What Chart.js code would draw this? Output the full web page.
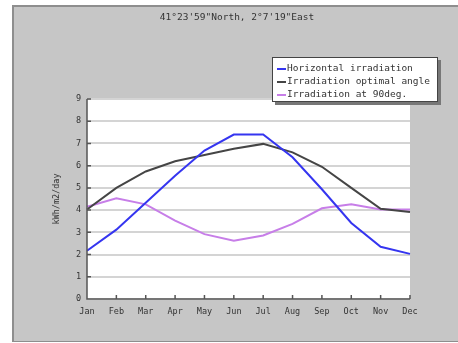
<!DOCTYPE html>
<html>
<head>
<meta charset="utf-8">
<script src="https://cdn.jsdelivr.net/npm/chart.js@4/dist/chart.umd.min.js"></script>
<style>
  body { margin: 0; background: #fff; width: 458px; height: 343px; overflow: hidden; }
  #frame {
    position: absolute; left: 12px; top: 5px; width: 446px; height: 337px;
    background: #c6c6c6; border-top: 2px solid #8e8e8e; border-left: 2px solid #8e8e8e;
    border-bottom: 1px solid #8e8e8e; box-sizing: border-box;
  }
  #title {
    position: absolute; left: 0; top: 4px; width: 446px; text-align: center;
    font: 9.5px "DejaVu Sans Mono", monospace; color: #333;
  }
  #legend {
    position: absolute; left: 258px; top: 50px; width: 166px; height: 45px;
    background: #fff; border: 1px solid #444; box-shadow: 3px 3px 0 #777;
    font: 9.5px "DejaVu Sans Mono", monospace; color: #333; padding-top: 3px; box-sizing: border-box;
  }
  .item { height: 13px; line-height: 13px; padding-left: 4px; white-space: nowrap; }
  .swatch { display: inline-block; width: 9px; height: 2px; vertical-align: middle; margin-right: 1px; }
  #wrap { position: absolute; left: 0; top: 0; width: 444px; height: 334px; }
</style>
</head>
<body>
<div id="frame">
  <div id="wrap"><canvas id="chart"></canvas></div>
  <div id="title">41°23'59"North, 2°7'19"East</div>
  <div id="legend"></div>
</div>
<script>
const months = ["Jan", "Feb", "Mar", "Apr", "May", "Jun", "Jul", "Aug", "Sep", "Oct", "Nov", "Dec"];
const horizontal = [2.17, 3.12, 4.33, 5.55, 6.68, 7.4, 7.4, 6.38, 4.94, 3.42, 2.35, 2.03];
const optimal = [4.03, 5.0, 5.74, 6.2, 6.48, 6.76, 6.98, 6.6, 5.95, 5.0, 4.06, 3.92];
const vertical90 = [4.15, 4.53, 4.26, 3.53, 2.92, 2.62, 2.86, 3.38, 4.08, 4.26, 4.03, 4.03];
const seriesNames = ["Horizontal irradiation", "Irradiation optimal angle", "Irradiation at 90deg."];
const seriesColors = ["#3535f0", "#454545", "#c77ee8"];

// Legend
document.getElementById("legend").innerHTML = seriesNames
  .map((name, i) => `<div class="item"><span class="swatch" style="background:${seriesColors[i]}"></span>${name}</div>`)
  .join("");

const font = { family: "'DejaVu Sans Mono', monospace", size: 8.5 };

// White plot area + inward tick marks
const plotArea = {
  id: "plotArea",
  beforeDraw(chart) {
    const { ctx, chartArea: a } = chart;
    ctx.save();
    ctx.fillStyle = "#fff";
    ctx.fillRect(a.left, a.top, a.right - a.left, a.bottom - a.top);
    ctx.restore();
  },
  afterDatasetsDraw(chart) {
    const { ctx, chartArea: a, scales } = chart;
    ctx.save();
    ctx.strokeStyle = "#555";
    ctx.lineWidth = 1.5;
    ctx.beginPath();
    scales.x.ticks.forEach((t, i) => {
      const x = scales.x.getPixelForTick(i);
      ctx.moveTo(x, a.bottom);
      ctx.lineTo(x, a.bottom - 4);
    });
    scales.y.ticks.forEach((t, i) => {
      const y = scales.y.getPixelForTick(i);
      ctx.moveTo(a.left, y);
      ctx.lineTo(a.left + 4, y);
    });
    ctx.moveTo(a.left, a.top);
    ctx.lineTo(a.left, a.bottom);
    ctx.lineTo(a.right, a.bottom);
    ctx.stroke();
    ctx.restore();
  },
};

new Chart(document.getElementById("chart"), {
  type: "line",
  data: {
    labels: months,
    datasets: [horizontal, optimal, vertical90].map((d, i) => ({
      label: seriesNames[i],
      data: d,
      borderColor: seriesColors[i],
      borderWidth: 2,
      pointRadius: 0,
      tension: 0,
    })),
  },
  options: {
    responsive: true,
    maintainAspectRatio: false,
    animation: false,
    layout: { padding: { left: 38, top: 92, right: 48, bottom: 0 } },
    plugins: { legend: { display: false }, tooltip: { enabled: false } },
    scales: {
      x: {
        offset: false,
        grid: { display: false, drawTicks: false },
        border: { display: false },
        ticks: { font, color: "#333", padding: 8, maxRotation: 0, autoSkip: false },
        afterFit: (s) => { s.height = 42; },
      },
      y: {
        min: 0,
        max: 9,
        grid: { color: "#d4d4d4", lineWidth: 2, drawTicks: false },
        border: { display: false },
        ticks: { font, color: "#333", stepSize: 1, padding: 6 },
        title: { display: true, text: "kWh/m2/day", font, color: "#333", padding: { top: 0, bottom: 8 } },
        afterFit: (s) => { s.width = 35; },
      },
    },
  },
  plugins: [plotArea],
});
</script>
</body>
</html>
